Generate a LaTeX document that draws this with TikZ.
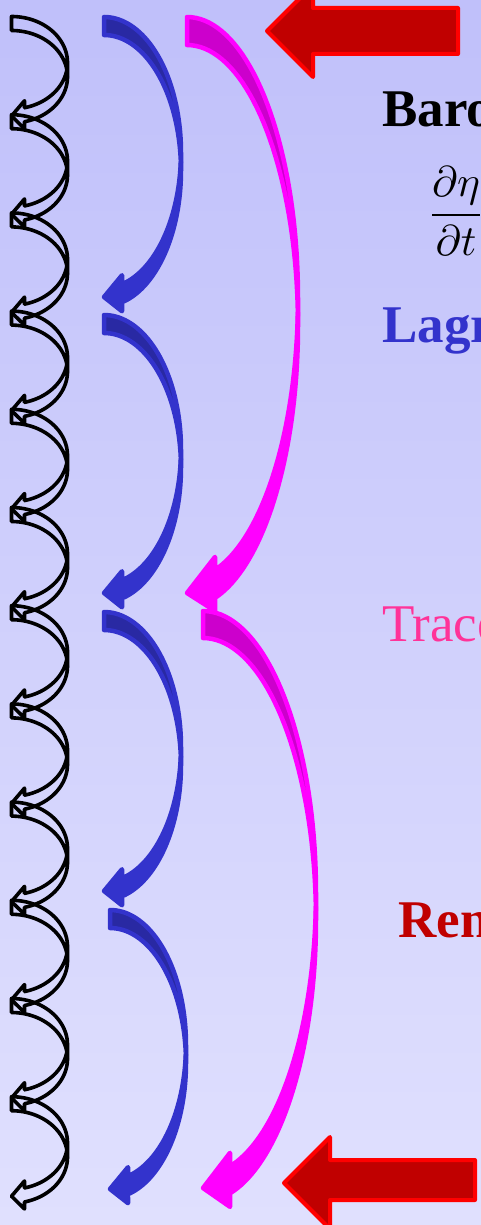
\documentclass[tikz,border=0pt]{standalone}
\usepackage{fontspec}
\setmainfont{Liberation Serif}
\definecolor{bgtop}{RGB}{192,192,250}
\definecolor{bgbot}{RGB}{224,224,254}
\definecolor{arrblue}{RGB}{51,51,204}
\definecolor{arrblueback}{RGB}{41,41,163}
\definecolor{arrmag}{RGB}{255,0,255}
\definecolor{arrmagback}{RGB}{204,0,204}
\definecolor{darkred}{RGB}{192,0,0}
\definecolor{brightred}{RGB}{255,0,0}
\definecolor{tracpink}{RGB}{255,51,153}
\tikzset{
  arrB front/.style={fill=arrblue},
  arrB back/.style={fill=arrblueback},
  arrB line/.style={draw=arrblue,line width=4.5,line join=round},
  arrM front/.style={fill=arrmag},
  arrM back/.style={fill=arrmagback},
  arrM line/.style={draw=arrmag,line width=4.5,line join=round},
  arrK front/.style={},
  arrK back/.style={},
  arrK line/.style={draw=black,line width=3.6,line join=round},
  blockarrow/.style={fill=darkred,draw=brightred,line width=4,line join=round},
  label/.style={anchor=base west,inner sep=0pt,font=\fontsize{53}{60}\selectfont},
}
% curved left arrow: #1 left, #2 top, #3 width, #4 vertical radius, #5 shaft, #6 head height, #7 head length, #8 kind
\newcommand\CurvArr[8]{%
  \pgfmathsetmacro\CAl{#1}%
  \pgfmathsetmacro\CAt{#2}%
  \pgfmathsetmacro\CAw{#3}%
  \pgfmathsetmacro\CAhr{#4}%
  \pgfmathsetmacro\CAth{#5}%
  \pgfmathsetmacro\CAaw{#6}%
  \pgfmathsetmacro\CAah{#7}%
  \pgfmathsetmacro\CAya{\CAt+\CAhr}%
  \pgfmathsetmacro\CAyb{\CAt+\CAhr+\CAth}%
  \pgfmathsetmacro\CAphi{asin(\CAth/(2*\CAhr))}%
  \pgfmathsetmacro\CApsi{acos(\CAah/\CAw)}%
  \pgfmathsetmacro\CAxa{\CAl+\CAah}%
  \pgfmathsetmacro\CAyf{\CAya+\CAhr*sin(\CApsi)}%
  \pgfmathsetmacro\CAyg{\CAyf+\CAth}%
  \pgfmathsetmacro\CAdh{(\CAaw-\CAth)/2}%
  \pgfmathsetmacro\CAyd{\CAyf-\CAdh}%
  \pgfmathsetmacro\CAyh{\CAyg+\CAdh}%
  \pgfmathsetmacro\CAys{\CAt+2*\CAhr+\CAth/2}%
  \path[#8 front] (\CAl,\CAys) -- (\CAxa,\CAyd) -- (\CAxa,\CAyf)
    -- plot[domain=\CApsi:\CAphi,samples=40] ({\CAl+\CAw*cos(\x)},{\CAya+\CAhr*sin(\x)})
    -- plot[domain=-\CAphi:\CApsi,samples=40] ({\CAl+\CAw*cos(\x)},{\CAyb+\CAhr*sin(\x)})
    -- (\CAxa,\CAyh) -- cycle;
  \path[#8 back] plot[domain=0:-90,samples=40] ({\CAl+\CAw*cos(\x)},{\CAyb+\CAhr*sin(\x)})
    -- (\CAl,\CAt)
    -- plot[domain=-90:0,samples=40] ({\CAl+\CAw*cos(\x)},{\CAya+\CAhr*sin(\x)}) -- cycle;
  \path[#8 line] plot[domain=0:-90,samples=40] ({\CAl+\CAw*cos(\x)},{\CAyb+\CAhr*sin(\x)})
    -- (\CAl,\CAt)
    -- plot[domain=-90:0,samples=40] ({\CAl+\CAw*cos(\x)},{\CAya+\CAhr*sin(\x)}) -- cycle;
  \path[#8 line] plot[domain=0:\CApsi,samples=40] ({\CAl+\CAw*cos(\x)},{\CAyb+\CAhr*sin(\x)})
    -- (\CAxa,\CAyh) -- (\CAl,\CAys) -- (\CAxa,\CAyd) -- (\CAxa,\CAyf)
    -- plot[domain=\CApsi:\CAphi,samples=40] ({\CAl+\CAw*cos(\x)},{\CAya+\CAhr*sin(\x)});
}
\begin{document}
\begin{tikzpicture}[x=1pt,y=-1pt]
\useasboundingbox (0,0) rectangle (481,1225);
\shade[top color=bgtop,bottom color=bgbot] (0,0) rectangle (481,1225);
\clip (0,0) rectangle (481,1225);
% black chain
\foreach \k in {0,...,11}{
  \pgfmathsetmacro\KT{16.5+98.2*\k}
  \CurvArr{11.5}{\KT}{56}{46.25}{14}{28}{13}{arrK}
}
% blue
\CurvArr{104}{17}{77}{135.5}{18}{36}{18}{arrB}
\CurvArr{104}{315}{77}{134.5}{18}{36}{18}{arrB}
\CurvArr{104}{612}{77}{135}{18}{36}{18}{arrB}
\CurvArr{110}{910}{76}{135}{18}{36}{18}{arrB}
% magenta
\CurvArr{187}{17}{111}{281}{28}{54}{28}{arrM}
\CurvArr{203}{611}{113}{281.75}{27}{54}{27}{arrM}
% red block arrows
\path[blockarrow] (267,31) -- (313,-15) -- (313,8) -- (458,8) -- (458,54) -- (313,54) -- (313,77) -- cycle;
\path[blockarrow] (284,1183) -- (330,1137) -- (330,1160) -- (475,1160) -- (475,1200) -- (330,1200) -- (330,1229) -- cycle;
% texts
\node[label,font=\fontsize{53}{60}\selectfont\bfseries] (baro) at (382,127) {Baro};
\node[anchor=base west,inner sep=0pt,scale=4.3] (eq) at (426,226) {$\displaystyle\frac{\partial\eta}{\partial t}$};
\node[label,font=\fontsize{53}{60}\selectfont\bfseries,text=arrblue] (lagr) at (382,342) {Lagr};
\node[label,text=tracpink] (trac) at (382,641) {Trace};
\node[label,font=\fontsize{53}{60}\selectfont\bfseries,text=darkred] (ren) at (398,937) {Ren};
\end{tikzpicture}
\end{document}
